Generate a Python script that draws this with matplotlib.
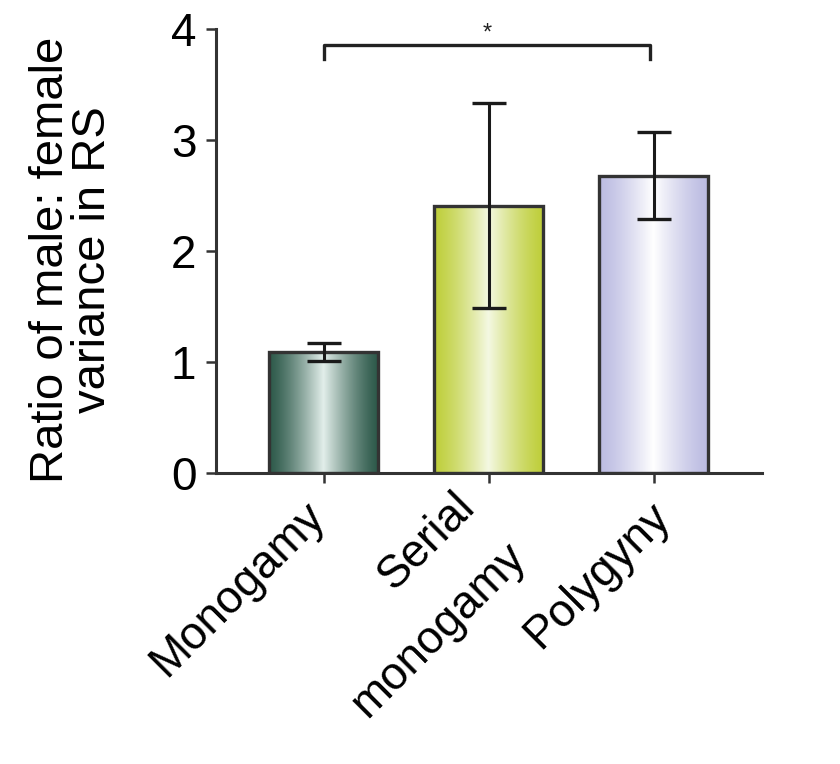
import numpy as np
import matplotlib
matplotlib.use("Agg")
import matplotlib.pyplot as plt
import matplotlib.transforms as mtransforms
from matplotlib.colors import LinearSegmentedColormap

categories = ["Monogamy", "Serial\nmonogamy", "Polygyny"]
values = [1.09, 2.41, 2.68]
errors = [0.08, 0.92, 0.39]
edge_colors = ["#2e5a4b", "#bfcf3c", "#bcbce2"]
center_colors = ["#e2eeea", "#f4f8e2", "#ffffff"]
yticks = [0, 1, 2, 3, 4]
sig_pair = (0, 2)
sig_y = 3.86
sig_label = "*"

plt.rcParams['font.family'] = ['Liberation Sans', 'DejaVu Sans']

fig = plt.figure(figsize=(8.4, 7.64), dpi=100)
ax = fig.add_axes([0.2568, 0.3805, 0.9071 - 0.2568, 0.962 - 0.3805])

x = np.arange(len(categories))
width = 0.66
bars = ax.bar(x, values, width=width, color="none", edgecolor="#333333",
              linewidth=2.4, zorder=3)

grad = np.linspace(0, 1, 256)
prof = 1 - np.abs(grad - 0.5) * 2  # 0 at edges, 1 at center
prof = prof ** 1.3
for b, ec, cc in zip(bars, edge_colors, center_colors):
    cmap = LinearSegmentedColormap.from_list("g", [ec, cc])
    x0, y0 = b.get_x(), b.get_y()
    w, h = b.get_width(), b.get_height()
    im = ax.imshow(prof[np.newaxis, :], cmap=cmap, aspect="auto",
                   extent=[x0, x0 + w, y0, y0 + h], zorder=2, vmin=0, vmax=1)
    im.set_clip_path(b)

ax.errorbar(x, values, yerr=errors, fmt="none", ecolor="#1a1a1a",
            elinewidth=2.2, capsize=12.5, capthick=2.4, zorder=4)

# significance bracket
x1, x2 = x[sig_pair[0]], x[sig_pair[1]] - 0.025
ax.plot([x1, x1, x2, x2], [sig_y - 0.13, sig_y, sig_y, sig_y - 0.13],
        color="#222222", lw=2.4, clip_on=False, zorder=5)
ax.text((x1 + x2) / 2, sig_y + 0.1, sig_label, ha="center", va="center",
        fontsize=17, color="#222222")

ax.set_xlim(-0.656, 2.655)
ax.set_ylim(0, 4)
ax.set_yticks(yticks)
ax.set_yticklabels([str(t) for t in yticks], fontsize=33)
ax.set_xticks(x)
ax.set_xticklabels(categories, fontsize=33, rotation=45, ha="right",
                   rotation_mode="anchor", multialignment="right",
                   linespacing=1.8)
ax.tick_params(axis="both", direction="out", length=7, width=1.8,
               color="#333333")
ax.tick_params(axis="y", pad=7)
ax.tick_params(axis="x", pad=8)

# per-label nudges (pixels, +dy = up) to match the original placement
nudges = [(-22, 0), (-36, 10), (-6, 0)]
for lab, (dx, dy) in zip(ax.get_xticklabels(), nudges):
    lab.set_transform(lab.get_transform() +
                      mtransforms.Affine2D().translate(dx, dy))

for s in ["top", "right"]:
    ax.spines[s].set_visible(False)
for s in ["left", "bottom"]:
    ax.spines[s].set_linewidth(2.2)
    ax.spines[s].set_color("#333333")

ax.set_ylabel("Ratio of male: female\nvariance in RS", fontsize=34,
              linespacing=0.95)
ax.yaxis.set_label_coords(-0.184, 0.48)

fig.savefig("out.png", dpi=100)
